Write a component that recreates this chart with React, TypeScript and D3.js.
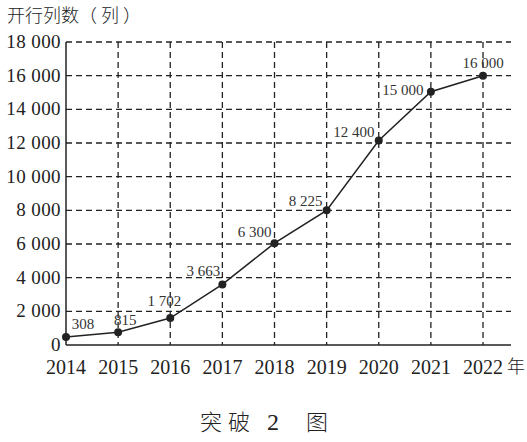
import React from "react";
import * as d3 from "d3";

const years = ["2014", "2015", "2016", "2017", "2018", "2019", "2020", "2021", "2022"];
const values = [480, 760, 1600, 3600, 6050, 8000, 12150, 15050, 16000];
const valueLabels = ["308", "815", "1 702", "3 663", "6 300", "8 225", "12 400", "15 000", "16 000"];
const yTicks = [0, 2000, 4000, 6000, 8000, 10000, 12000, 14000, 16000, 18000];
const yTickLabels = ["0", "2 000", "4 000", "6 000", "8 000", "10 000", "12 000", "14 000", "16 000", "18 000"];
const captionChars = ["突", "破", "2", "图"];
// label offsets (dx, dy) relative to point
const labelOffsets: [number, number][] = [
  [17, -8], [7, -7], [-6, -12], [-19, -8], [-20, -6], [-21, -4], [-25, -3], [-28, 3], [0, -8],
];
const captionX = [211, 239, 273, 317];

export default function App() {
  const W = 527, H = 442;
  const x0 = 66, x1 = 511, yTop = 42, yBot = 345;
  const x = d3.scalePoint<string>().domain(years).range([x0, 483]);
  const y = d3.scaleLinear().domain([0, 18000]).range([yBot, yTop]);
  const line = d3.line<number>().x((_, i) => x(years[i])!).y((d) => y(d));
  const serif = "'Liberation Serif', 'Times New Roman', serif";
  const cjk = "'Noto Sans CJK SC', sans-serif";
  return (
    <svg width={W} height={H} style={{ display: "block", position: "absolute", left: 0, top: 0, background: "#fff" }}>
      <text x={7} y={22} fontFamily={cjk} fontSize={18} fontWeight={300} fill="#222">开行列数（ 列 ）</text>
      {/* horizontal grid */}
      {yTicks.slice(1).map((t) => (
        <line key={"h" + t} x1={x0} x2={x1} y1={y(t)} y2={y(t)} stroke="#222" strokeWidth={1.3} strokeDasharray="6,4" />
      ))}
      {/* vertical grid */}
      {years.slice(1).map((yr) => (
        <line key={"v" + yr} x1={x(yr)} x2={x(yr)} y1={yTop} y2={yBot} stroke="#222" strokeWidth={1.3} strokeDasharray="6,4" />
      ))}
      {/* axes */}
      <line x1={x0} x2={x0} y1={yTop} y2={yBot} stroke="#222" strokeWidth={1.5} />
      <line x1={x0} x2={x1} y1={yBot} y2={yBot} stroke="#222" strokeWidth={1.5} />
      {/* y tick labels */}
      {yTicks.map((t, i) => (
        <text key={"yt" + t} x={61} y={y(t) + 6} textAnchor="end" fontFamily={serif} fontSize={19} letterSpacing={0.4} fill="#222">{yTickLabels[i]}</text>
      ))}
      {/* x tick labels */}
      {years.map((yr) => (
        <text key={"xt" + yr} x={x(yr)} y={374} textAnchor="middle" fontFamily={serif} fontSize={20} fill="#222">{yr}</text>
      ))}
      <text x={507} y={373} fontFamily={cjk} fontSize={18} fontWeight={300} fill="#222">年</text>
      {/* line */}
      <path d={line(values) || ""} fill="none" stroke="#222" strokeWidth={1.5} />
      {values.map((v, i) => (
        <circle key={"p" + i} cx={x(years[i])} cy={y(v)} r={4} fill="#222" />
      ))}
      {values.map((v, i) => (
        <text key={"l" + i} x={x(years[i])! + labelOffsets[i][0]} y={y(v) + labelOffsets[i][1]} textAnchor="middle" fontFamily={serif} fontSize={15} fill="#333">{valueLabels[i]}</text>
      ))}
      {captionChars.map((c, i) => (
        <text key={"c" + i} x={captionX[i]} y={430} textAnchor="middle" fontFamily={i === 2 ? serif : cjk} fontSize={i === 2 ? 24 : 22} fontWeight={300} fill="#222">{c}</text>
      ))}
    </svg>
  );
}
